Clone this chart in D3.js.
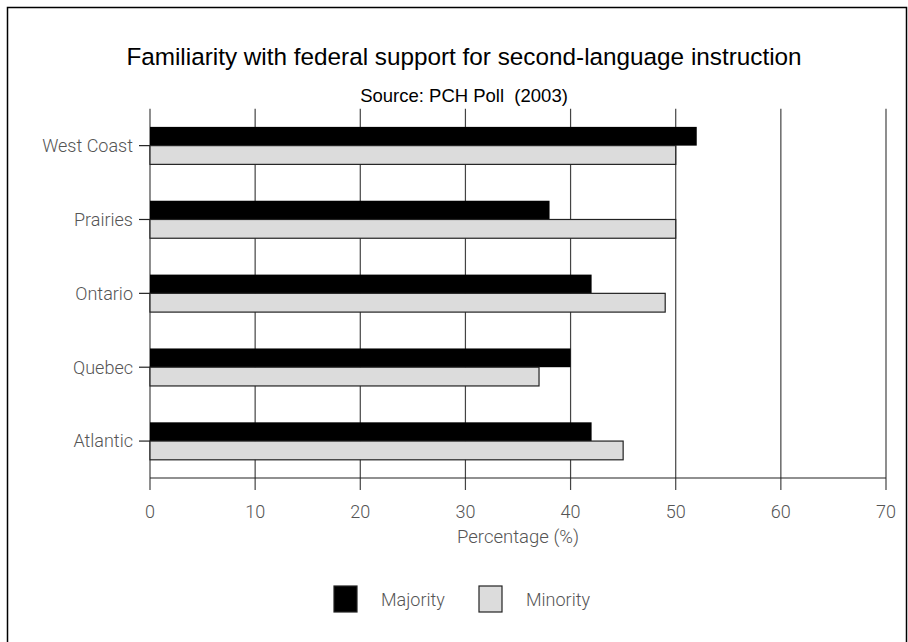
<!DOCTYPE html>
<html>
<head>
<script src="https://d3js.org/d3.v7.min.js"></script>
<title>Familiarity with federal support</title>
<style>
body {margin:0; background:#fff;}
text {font-family: "Liberation Sans", Arial, sans-serif;}
.lbl {font-family: Roboto, "Liberation Sans", sans-serif; font-weight:300; fill:#555;}
</style>
</head>
<body>
<div id="myDiv"></div>
<script>
// data
var regions = ["West Coast", "Prairies", "Ontario", "Quebec", "Atlantic"];
var majority = [52, 38, 42, 40, 42];
var minority = [50, 50, 49, 37, 45];
var seriesNames = ["Majority", "Minority"];
var xTicks = [0, 10, 20, 30, 40, 50, 60, 70];

var W = 908, H = 642;
var plotLeft = 150, plotRight = 886, plotTop = 108.7, plotBottom = 478;

var svg = d3.select("#myDiv").append("svg")
	.attr("width", W)
	.attr("height", H);

// outer frame
svg.append("rect")
	.attr("x", 7.5).attr("y", 7.5)
	.attr("width", 899).attr("height", 660)
	.attr("fill", "none").attr("stroke", "#000").attr("stroke-width", 1.5);

// scales
var xScale = d3.scaleLinear().domain([0, 70]).range([plotLeft, plotRight]);
var yScale = d3.scaleBand().domain(regions).range([plotTop, plotBottom]).paddingInner(0).paddingOuter(0);
var sub = d3.scaleBand().domain(seriesNames).range([0, yScale.bandwidth()]).paddingInner(0).paddingOuter(0.97);

// gridlines
svg.append("g").selectAll("line").data(xTicks).enter()
	.append("line")
	.attr("x1", function(d) {return xScale(d);})
	.attr("x2", function(d) {return xScale(d);})
	.attr("y1", plotTop)
	.attr("y2", plotBottom + 12)
	.attr("stroke", "#444")
	.attr("stroke-width", 1.2);

// bottom axis line
svg.append("line")
	.attr("x1", plotLeft).attr("x2", plotRight)
	.attr("y1", plotBottom).attr("y2", plotBottom)
	.attr("stroke", "#222").attr("stroke-width", 1.2);

// bars
var rows = regions.map(function(r, i) {return {region: r, vals: [majority[i], minority[i]]};});
var groups = svg.append("g").selectAll("g").data(rows).enter()
	.append("g")
	.attr("transform", function(d) {return "translate(0," + yScale(d.region) + ")";});

groups.selectAll("rect").data(function(d) {return d.vals.map(function(v, j) {return {name: seriesNames[j], v: v};});})
	.enter()
	.append("rect")
	.attr("x", xScale(0))
	.attr("y", function(d) {return sub(d.name);})
	.attr("width", function(d) {return xScale(d.v) - xScale(0);})
	.attr("height", sub.bandwidth())
	.attr("fill", function(d) {return d.name == "Majority" ? "#000" : "#dcdcdc";})
	.attr("stroke", function(d) {return d.name == "Majority" ? "none" : "#222";})
	.attr("stroke-width", 1.2);

// y axis ticks + labels
var yTickG = svg.append("g").selectAll("g").data(regions).enter()
	.append("g")
	.attr("transform", function(d) {return "translate(0," + (yScale(d) + sub("Minority")) + ")";});
yTickG.append("line")
	.attr("x1", plotLeft - 11).attr("x2", plotLeft)
	.attr("stroke", "#222").attr("stroke-width", 1.2);
yTickG.append("text")
	.attr("class", "lbl")
	.attr("x", plotLeft - 17)
	.attr("dy", "0.35em")
	.attr("text-anchor", "end")
	.attr("font-size", 18)
	.text(function(d) {return d;});

// x tick labels
svg.append("g").selectAll("text").data(xTicks).enter()
	.append("text")
	.attr("class", "lbl")
	.attr("x", function(d) {return xScale(d);})
	.attr("y", 518)
	.attr("text-anchor", "middle")
	.attr("font-size", 18)
	.text(function(d) {return d;});

svg.append("text")
	.attr("class", "lbl")
	.attr("x", 518).attr("y", 543)
	.attr("text-anchor", "middle")
	.attr("font-size", 18.5)
	.text("Percentage (%)");

// titles
svg.append("text")
	.attr("x", 464).attr("y", 65)
	.attr("text-anchor", "middle")
	.attr("font-size", 24.3)
	.attr("fill", "#000")
	.text("Familiarity with federal support for second-language instruction");
svg.append("text")
	.attr("x", 464).attr("y", 102)
	.attr("text-anchor", "middle")
	.attr("font-size", 18.5)
	.attr("fill", "#000")
	.text("Source: PCH Poll  (2003)")
	.style("white-space", "pre");

// legend
var legX = [334, 479];
var leg = svg.append("g").selectAll("g").data(seriesNames).enter()
	.append("g")
	.attr("transform", function(d, i) {return "translate(" + legX[i] + ",586)";});
leg.append("rect")
	.attr("width", 23).attr("height", 26)
	.attr("fill", function(d) {return d == "Majority" ? "#000" : "#dcdcdc";})
	.attr("stroke", "#222").attr("stroke-width", 1.2);
leg.append("text")
	.attr("class", "lbl")
	.attr("x", 47).attr("y", 20)
	.attr("font-size", 18)
	.text(function(d) {return d;});
</script>
</body>
</html>
